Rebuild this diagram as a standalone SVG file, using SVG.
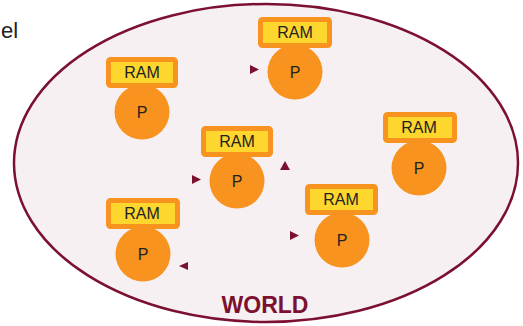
<svg xmlns="http://www.w3.org/2000/svg" width="523" height="326" viewBox="0 0 523 326">
<style>
.ram{fill:#fdd62e;stroke:#f7931e;stroke-width:5}
.p{fill:#f7931e}
.t{font-family:"Liberation Sans",Arial,sans-serif;fill:#222;text-anchor:middle}
.ah{fill:#7b1030}
</style>
<rect width="523" height="326" fill="#ffffff"/>
<text x="1" y="38" font-family="Liberation Sans, Arial, sans-serif" font-size="22" fill="#222">el</text>
<ellipse id="world" cx="266" cy="163" rx="252" ry="159" fill="#f7f0f3" stroke="#7b1030" stroke-width="2.5"/>
<text x="265" y="313" font-family="Liberation Sans, Arial, sans-serif" font-size="23" font-weight="bold" fill="#7b1030" text-anchor="middle">WORLD</text>
<g id="connectors">
<polygon class="ah" points="250,65 259,69.5 250,74"/>
<polygon class="ah" points="192,175 201,179.5 192,184"/>
<polygon class="ah" points="290,231 299,235.5 290,240"/>
<polygon class="ah" points="280,170 285,161 290,170"/>
<polygon class="ah" points="188,262 179,266 188,270"/>
</g>
<g id="node1">
<circle class="p" cx="142" cy="112" r="27.5"/>
<rect class="ram" x="108.5" y="59.5" width="67" height="26" rx="2"/>
<text class="t" x="142" y="78" font-size="16">RAM</text>
<text class="t" x="142" y="118" font-size="16">P</text>
</g>
<g id="node2">
<circle class="p" cx="295" cy="72" r="27.5"/>
<rect class="ram" x="260.5" y="19.5" width="69" height="26" rx="2"/>
<text class="t" x="295" y="38" font-size="16">RAM</text>
<text class="t" x="295" y="78" font-size="16">P</text>
</g>
<g id="node3">
<circle class="p" cx="237" cy="181" r="27.5"/>
<rect class="ram" x="203.5" y="128.5" width="67" height="26" rx="2"/>
<text class="t" x="237" y="147" font-size="16">RAM</text>
<text class="t" x="237" y="187" font-size="16">P</text>
</g>
<g id="node4">
<circle class="p" cx="342" cy="240" r="27.5"/>
<rect class="ram" x="307.5" y="186.5" width="68" height="26" rx="2"/>
<text class="t" x="341" y="205" font-size="16">RAM</text>
<text class="t" x="342" y="246" font-size="16">P</text>
</g>
<g id="node5">
<circle class="p" cx="143" cy="254" r="27.5"/>
<rect class="ram" x="108.5" y="200.5" width="69" height="26" rx="2"/>
<text class="t" x="142" y="219" font-size="16">RAM</text>
<text class="t" x="143" y="260" font-size="16">P</text>
</g>
<g id="node6">
<circle class="p" cx="419" cy="168" r="27.5"/>
<rect class="ram" x="385.5" y="114.5" width="69" height="26" rx="2"/>
<text class="t" x="419" y="133" font-size="16">RAM</text>
<text class="t" x="419" y="174" font-size="16">P</text>
</g>
</svg>
